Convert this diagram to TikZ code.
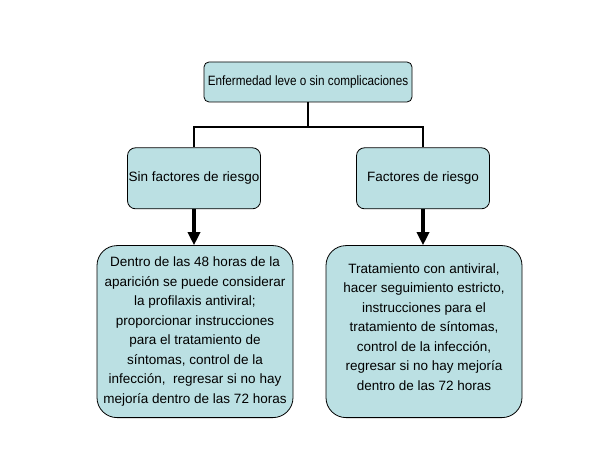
\documentclass[tikz,border=0pt]{standalone}
\usepackage{fontspec}
\setmainfont{Liberation Sans}
\usetikzlibrary{positioning,calc,arrows.meta}

\definecolor{boxblue}{RGB}{187,224,227}

\begin{document}
\begin{tikzpicture}[x=1pt,y=1pt,
    box/.style={draw,fill=boxblue,line width=0.8pt,align=center,inner sep=0pt,
        font=\fontsize{13.5}{19.5}\selectfont},
    topbox/.style={box,rounded corners=5pt,minimum width=208pt,minimum height=40pt,
        font=\fontsize{13.5}{19.5}\selectfont\addfontfeature{FakeStretch=0.87}},
    midbox/.style={box,rounded corners=8pt,minimum width=133pt,minimum height=61pt},
    lowbox/.style={box,rounded corners=20pt,minimum width=196pt,minimum height=172pt},
    branch/.style={line width=2pt},
    bigarrow/.style={line width=4pt,-{Triangle[length=13pt,width=12pt]}}]
            \useasboundingbox (0,0) rectangle (612,458);

            \node[topbox] (enf) at (308,376) {Enfermedad leve o sin complicaciones};
            \node[midbox] (sin) [below=45pt of enf, xshift=-114pt] {Sin factores de riesgo};
            \node[midbox] (fac) [below=45pt of enf, xshift=115pt] {Factores de riesgo};
            \node[lowbox] (dentro) [below=36pt of sin, xshift=1pt] {Dentro de las 48 horas de la\\
                aparición se puede considerar\\ la profilaxis antiviral;\\
                proporcionar instrucciones\\ para el tratamiento de\\
                síntomas, control de la\\ infección,~ regresar si no hay\\
                mejoría dentro de las 72 horas};
            \node[lowbox] (trat) [below=36pt of fac, xshift=1pt] {Tratamiento con antiviral,\\
                hacer seguimiento estricto,\\ instrucciones para el\\
                tratamiento de síntomas,\\ control de la infección,\\
                regresar si no hay mejoría\\ dentro de las 72 horas\\[-10pt]\mbox{}};

            \coordinate (split) at ($(enf.south)+(0,-25)$);
            \draw[branch] (enf.south) -- (split);
            \draw[branch] (split) -| (sin.north);
            \draw[branch] (split) -| (fac.north);
            \draw[bigarrow] (sin) -- (sin |- dentro.north);
            \draw[bigarrow] (fac) -- (fac |- trat.north);
        \end{tikzpicture}
\end{document}
